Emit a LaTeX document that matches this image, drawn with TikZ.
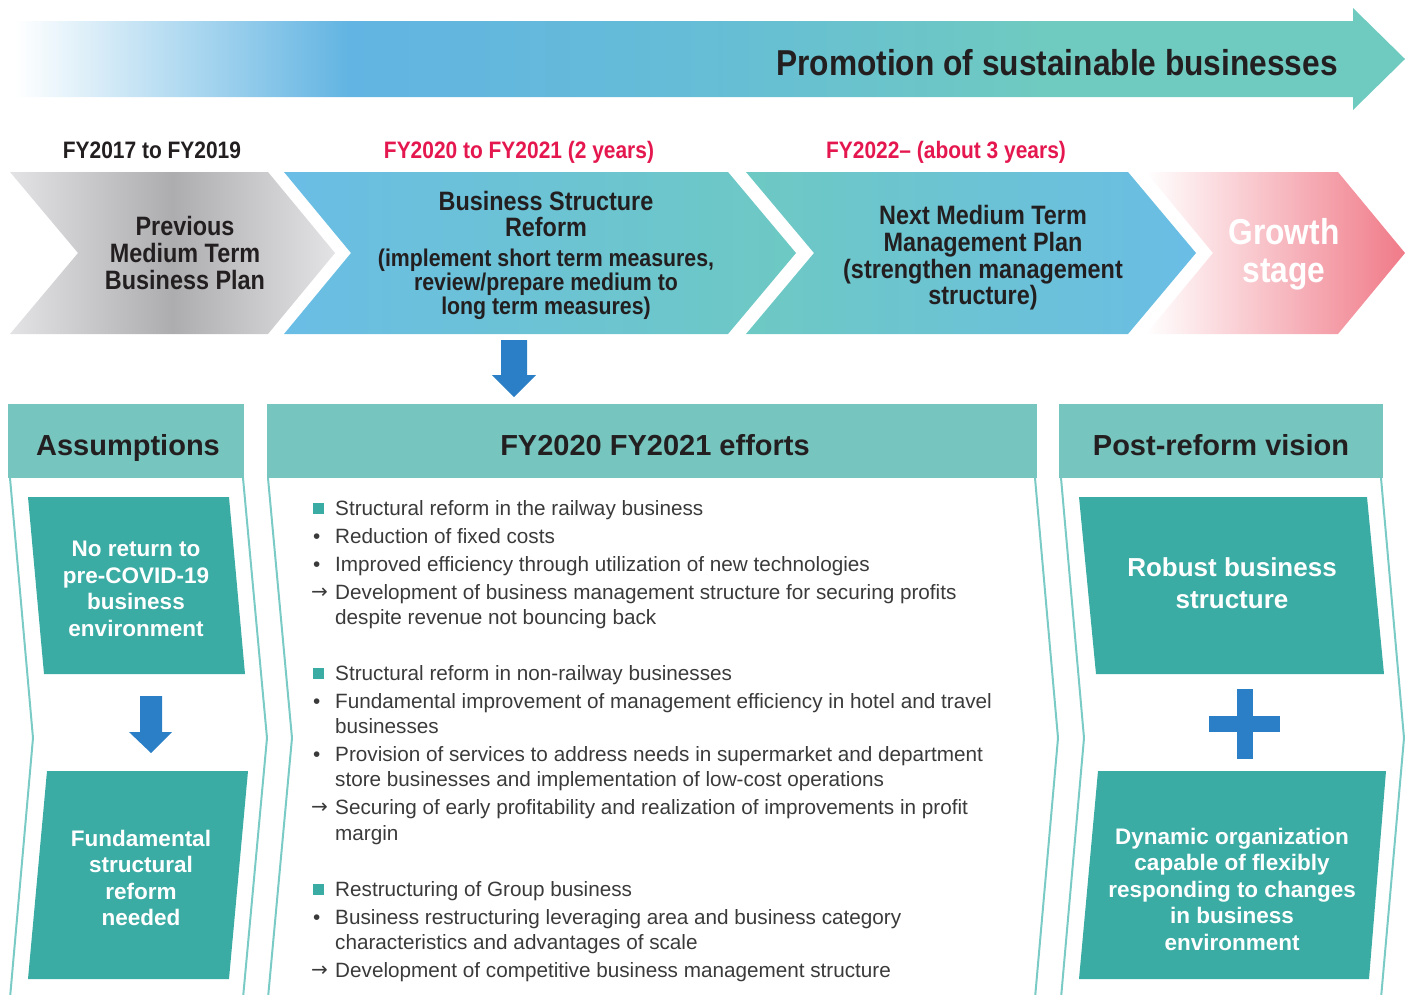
\documentclass[tikz,border=0pt]{standalone}
\usepackage{fontspec}
\setmainfont{Liberation Sans}
\newfontfamily\condfont[FakeStretch=0.88]{Liberation Sans}
\newfontfamily\symfont{DejaVu Sans}
\definecolor{headteal}{HTML}{76C5BE}
\definecolor{boxteal}{HTML}{3AACA4}
\definecolor{lineteal}{HTML}{7ACBC5}
\definecolor{arrowblue}{HTML}{2A7FC6}
\definecolor{fyred}{HTML}{E5174F}
\definecolor{darktext}{HTML}{231F20}
\definecolor{bodytext}{HTML}{3A3A3A}
\definecolor{skyblue}{HTML}{62B4E2}
\definecolor{midblue}{HTML}{65BDD6}
\definecolor{seateal}{HTML}{6FCAC0}
\definecolor{chevblue}{HTML}{6ABDE5}
\definecolor{chevteal}{HTML}{6DC9C3}
\definecolor{greylight}{HTML}{E3E3E5}
\definecolor{greydark}{HTML}{ADADB0}
\definecolor{growthpink}{HTML}{F07A88}
\pgfdeclarehorizontalshading{promoshade}{100bp}{color(0bp)=(white); color(25bp)=(white); color(37bp)=(skyblue); color(50bp)=(midblue); color(62bp)=(seateal); color(100bp)=(seateal)}
\tikzset{
  fylabel/.style={anchor=base, inner sep=0pt, font=\condfont\bfseries\fontsize{23.8}{28}\selectfont},
  chevtext/.style={align=center, inner sep=0pt, text=darktext, font=\condfont\bfseries\fontsize{26.6}{26.7}\selectfont},
  subtext/.style={align=center, inner sep=0pt, text=darktext, font=\condfont\bfseries\fontsize{24.2}{24}\selectfont},
  heading/.style={anchor=base, inner sep=0pt, text=darktext, font=\bfseries\fontsize{29}{32}\selectfont},
  boxtext/.style={align=center, inner sep=0pt, text=white, font=\bfseries\fontsize{22.5}{26.5}\selectfont},
  bodyline/.style={anchor=base west, inner sep=0pt, text=bodytext, font=\fontsize{20.7}{25}\selectfont},
  arrowmark/.style={anchor=base west, inner sep=0pt, text=bodytext, font=\symfont\fontsize{20}{22}\selectfont},
  sqbullet/.style={fill=boxteal, inner sep=0pt, minimum size=11pt},
  panelline/.style={lineteal, line width=2pt}
}

\begin{document}
\begin{tikzpicture}[x=1pt,y=-1pt]
\useasboundingbox (0,0) rectangle (1410,994);
\shade [shading=promoshade] (15,21) -- (1353,21) -- (1353,8) -- (1405,59) -- (1353,110) -- (1353,97) -- (15,97) -- cycle;
\node [anchor=base east, inner sep=0pt, text=darktext, font=\condfont\bfseries\fontsize{36}{40}\selectfont] (promo) at (1338,75) {Promotion of sustainable businesses};

\node [fylabel, text=darktext] (fy1) at (152,158) {FY2017 to FY2019};
\node [fylabel, text=fyred] (fy2) at (519,158) {FY2020 to FY2021 (2 years)};
\node [fylabel, text=fyred] (fy3) at (946,158) {FY2022– (about 3 years)};

\shade [left color=greylight, right color=greylight, middle color=greydark] (10,172) -- (268,172) -- (335,253) -- (268,334) -- (10,334) -- (78,253) -- cycle;
\shade [left color=chevblue, right color=chevteal] (284,172) -- (728,172) -- (796,253) -- (728,334) -- (284,334) -- (351,253) -- cycle;
\shade [left color=chevteal, right color=chevblue] (746,172) -- (1128,172) -- (1196,253) -- (1128,334) -- (746,334) -- (814,253) -- cycle;
\shade [left color=white, right color=growthpink] (1146,172) -- (1338,172) -- (1405,253) -- (1338,334) -- (1146,334) -- (1213,253) -- cycle;

\node [chevtext] (prev) at (185,253) {Previous\\Medium Term\\Business Plan};
\node [chevtext] (bsr) at (546,214) {Business Structure\\Reform};
\node [subtext] (bsrsub) at (546,284) {(implement short term measures,\\review/prepare medium to\\long term measures)};
\node [chevtext] (next) at (983,258) {Next Medium Term\\Management Plan\\(strengthen management\\structure)};
\node [chevtext, text=white, font=\condfont\bfseries\fontsize{36}{38}\selectfont] (growth) at (1284,254) {Growth\\stage};

\fill [arrowblue] (501,340) -- (527,340) -- (527,375) -- (536,375) -- (514,397) -- (492,375) -- (501,375) -- cycle;

\fill [headteal] (8,404) rectangle (244,478);
\fill [headteal] (267,404) rectangle (1037,478);
\fill [headteal] (1059,404) rectangle (1383,478);
\node [heading] (assum) at (128,455) {Assumptions};
\node [heading] (efforts) at (655,455) {FY2020 FY2021 efforts};
\node [heading] (vision) at (1221,455) {Post-reform vision};

\draw [panelline] (10,478) -- (33,738) -- (10,998);
\draw [panelline] (243,478) -- (267,738) -- (243,998);
\draw [panelline] (268,478) -- (292,738) -- (268,998);
\draw [panelline] (1035,478) -- (1058,738) -- (1035,998);
\draw [panelline] (1061,478) -- (1084,738) -- (1061,998);
\draw [panelline] (1381,478) -- (1404,738) -- (1381,998);

\fill [boxteal] (28,497) -- (229,497) -- (245,674) -- (44,674) -- cycle;
\fill [boxteal] (47,771) -- (248,771) -- (229,979) -- (28,979) -- cycle;
\fill [boxteal] (1079,497) -- (1367,497) -- (1384,674) -- (1096,674) -- cycle;
\fill [boxteal] (1098,771) -- (1386,771) -- (1369,979) -- (1079,979) -- cycle;
\node [boxtext] (noreturn) at (136,589) {No return to\\pre-COVID-19\\business\\environment};
\node [boxtext] (needed) at (141,878) {Fundamental\\structural\\reform\\needed};
\node [boxtext, font=\bfseries\fontsize{26}{32}\selectfont] (robust) at (1232,583) {Robust business\\structure};
\node [boxtext] (dynamic) at (1232,889) {Dynamic organization\\capable of flexibly\\responding to changes\\in business\\environment};

\fill [arrowblue] (140,696) -- (162,696) -- (162,732) -- (172,732) -- (151,753) -- (129,732) -- (140,732) -- cycle;
\fill [arrowblue] (1237,689) rectangle (1253,759);
\fill [arrowblue] (1209,716) rectangle (1280,732);

\node [sqbullet] (m1) at (318.5,508.5) {};
\node [bodyline] (l1) at (335,515) {Structural reform in the railway business};
\node [bodyline] (b2) at (313,543) {•};
\node [bodyline] (l2) at (335,543) {Reduction of fixed costs};
\node [bodyline] (b3) at (313,571) {•};
\node [bodyline] (l3) at (335,571) {Improved efficiency through utilization of new technologies};
\node [arrowmark] (a4) at (311,598) {→};
\node [bodyline] (l4) at (335,599) {Development of business management structure for securing profits};
\node [bodyline] (l5) at (335,624) {despite revenue not bouncing back};
\node [sqbullet] (m6) at (318.5,673.5) {};
\node [bodyline] (l6) at (335,680) {Structural reform in non-railway businesses};
\node [bodyline] (b7) at (313,708) {•};
\node [bodyline] (l7) at (335,708) {Fundamental improvement of management efficiency in hotel and travel};
\node [bodyline] (l8) at (335,733) {businesses};
\node [bodyline] (b9) at (313,761) {•};
\node [bodyline] (l9) at (335,761) {Provision of services to address needs in supermarket and department};
\node [bodyline] (l10) at (335,786) {store businesses and implementation of low-cost operations};
\node [arrowmark] (a11) at (311,813) {→};
\node [bodyline] (l11) at (335,814) {Securing of early profitability and realization of improvements in profit};
\node [bodyline] (l12) at (335,840) {margin};
\node [sqbullet] (m13) at (318.5,889.5) {};
\node [bodyline] (l13) at (335,896) {Restructuring of Group business};
\node [bodyline] (b14) at (313,924) {•};
\node [bodyline] (l14) at (335,924) {Business restructuring leveraging area and business category};
\node [bodyline] (l15) at (335,949) {characteristics and advantages of scale};
\node [arrowmark] (a16) at (311,976) {→};
\node [bodyline] (l16) at (335,977) {Development of competitive business management structure};
\end{tikzpicture}
\end{document}
